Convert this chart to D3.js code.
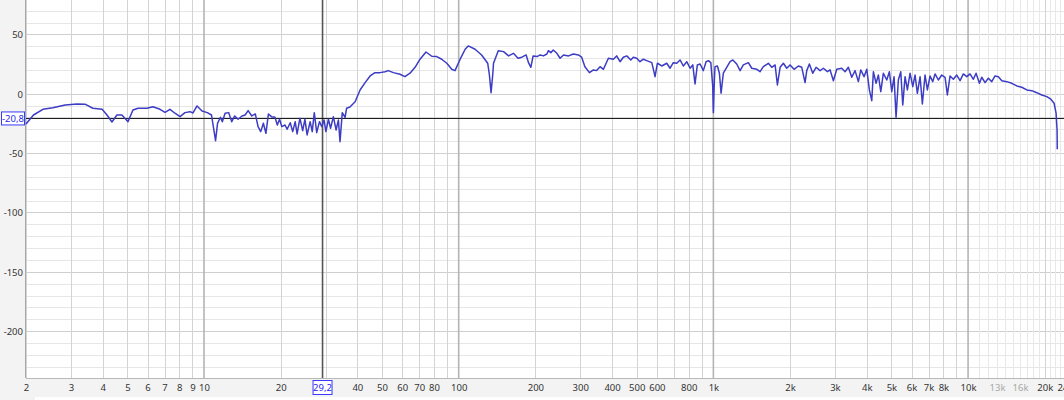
<!DOCTYPE html>
<html><head><meta charset="utf-8">
<script src="https://cdn.jsdelivr.net/npm/d3@7"></script>
<style>
html,body{margin:0;padding:0;background:#f3f3f3;}
svg{display:block;}
text{font-family:"Noto Sans","Open Sans",sans-serif;}
</style></head>
<body>
<svg id="chart" width="1064" height="400"></svg>
<script>
// ---------- DATA ----------
const freq = [
2.00,2.14,2.33,2.55,2.85,3.17,3.41,3.66,3.98,4.16,
4.35,4.55,4.76,5.03,5.26,5.51,5.97,6.30,6.72,7.03,
7.35,7.69,8.05,8.42,8.81,9.05,9.39,9.82,10.3,10.7,
11.1,11.3,11.6,11.8,12.1,12.5,12.85,13.2,13.6,14.1,
14.5,14.9,15.4,15.9,16.3,16.7,17.1,17.5,17.9,18.4,
19.0,19.4,19.8,20.2,20.8,21.2,21.8,22.3,22.8,23.2,
23.8,24.4,24.9,25.4,26.1,26.6,27.1,27.7,28.4,29.0,
29.6,30.1,30.8,31.4,32.2,33.0,33.7,34.2,34.9,35.8,
36.3,37.4,39.2,41.0,42.9,44.9,46.9,49.1,51.4,52.9,
55.4,58.8,61.5,64.4,67.4,70.5,74.4,78.4,82.0,85.8,
89.8,93.9,96.7,101,106,109,116,123,130,132,
134,136,137,143,150,157,164,171,177,184,
188,192,196,203,209,215,222,225,230,235,
243,250,258,270,282,295,304,313,326,338,
348,359,370,387,405,417,430,443,457,474,
485,500,515,531,547,573,582,590,603,627,
656,676,696,718,740,762,786,810,830,847,
865,887,913,936,956,977,994,1000,1009,1015,
1037,1056,1072,1094,1128,1163,1192,1235,1273,1311,
1372,1415,1481,1525,1571,1644,1695,1747,1784,1828,
1883,1941,2000,2074,2157,2223,2291,2326,2382,2456,
2531,2624,2703,2803,2872,2959,3051,3192,3289,3388,
3494,3600,3709,3790,3905,4002,4097,4187,4248,4353,
4445,4542,4650,4795,4909,5017,5122,5215,5325,5442,
5541,5658,5777,5920,6066,6193,6323,6480,6615,6778,
6921,7092,7267,7420,7645,7883,8122,8293,8498,8756,
9028,9303,9584,9883,10180,10490,10750,11080,11320,11660,
12010,12390,12760,13150,13570,14190,14850,15540,16250,17010,
17790,18620,19470,20380,21130,21770,22160,22360,22400];

const db = [
-25.4,-17.9,-13.1,-11.7,-9.4,-8.6,-8.8,-12.2,-13.1,-17.9,
-23.8,-17.9,-17.9,-23.5,-13.7,-12.2,-12.2,-10.9,-13.1,-15.6,
-13.1,-16.4,-19.3,-15.9,-15.1,-16.2,-10.3,-14.5,-15.9,-17.9,
-39.5,-24.9,-19.8,-23.5,-16.4,-15.9,-23.5,-18.7,-21.5,-18.7,
-17.9,-14.2,-18.7,-17.0,-27.7,-31.9,-24.9,-33.3,-17.0,-19.3,
-19.8,-26.3,-21.5,-27.7,-26.3,-29.9,-24.4,-31.9,-23.5,-33.9,
-20.6,-31.1,-21.5,-34.7,-23.5,-31.9,-15.9,-32.8,-23.5,-27.7,
-22.1,-31.9,-21.5,-29.1,-19.3,-30.5,-22.1,-40.4,-15.9,-19.8,
-12.2,-11.1,-6.7,3.2,9.4,15.0,17.8,17.8,18.6,19.5,
17.8,16.4,14.4,17.3,22.3,29.1,35.2,31.6,31.3,29.1,
25.7,20.7,19.5,28.5,37.5,40.3,37.5,32.7,25.7,15.8,
0.9,15.8,25.7,36.3,35.5,31.9,34.1,29.9,30.8,32.7,
26.2,22.3,31.9,31.3,32.7,31.9,33.5,36.3,34.6,36.9,
34.1,29.9,32.7,31.9,33.5,32.7,30.8,22.8,17.8,20.1,
19.5,22.8,20.6,29.9,29.1,31.9,27.0,30.8,31.9,28.5,
30.8,29.9,27.0,29.1,27.9,26.2,20.1,14.4,25.7,23.4,
25.7,21.5,26.2,25.7,28.5,23.4,27.0,21.5,24.3,8.3,
24.3,25.1,19.5,27.0,27.9,26.2,6.6,-15.9,11.6,22.8,
23.4,17.3,0.4,17.3,22.3,27.0,28.5,25.1,19.5,24.3,
26.2,21.5,20.6,18.6,22.8,25.7,22.3,24.3,7.4,22.3,
25.7,21.5,24.3,20.6,23.4,22.3,9.4,19.5,25.1,17.3,
22.3,19.5,21.5,18.6,20.1,11.0,20.6,21.5,18.6,22.3,
13.9,19.5,10.2,20.1,14.4,20.6,3.2,-5.8,18.6,8.8,
15.8,1.8,17.3,11.6,18.6,1.8,14.4,-19.8,11.6,18.6,
-9.4,14.4,3.2,17.3,6.0,15.8,0.4,14.4,-8.6,15.8,
3.2,15.0,10.2,16.7,11.6,15.8,13.9,-1.0,15.0,12.2,
15.8,11.0,16.7,14.4,16.7,12.2,17.3,8.8,13.9,9.4,
13.1,10.2,15.0,14.4,11.0,10.2,8.8,6.6,5.5,3.2,
2.6,0.9,-1.0,-2.4,-4.6,-8.0,-16.4,-30.5,-46.8];

const xTickValues = [2,3,4,5,6,7,8,9,10,20,40,50,60,70,80,100,200,300,400,500,600,800,1000,2000,3000,4000,5000,6000,7000,8000,10000,13000,16000,20000,24000];
const xTickLabels = ["2","3","4","5","6","7","8","9","10","20","40","50","60","70","80","100","200","300","400","500","600","800","1k","2k","3k","4k","5k","6k","7k","8k","10k","13k","16k","20k","24k"];
const xFadedLabels = ["13k","16k"];
const yTickValues = [50,0,-50,-100,-150,-200];
const yTickLabels = ["50","0","-50","-100","-150","-200"];
const freqDomain = [2, 24000];
const dbDomain = [-239.5, 79];
const cursorFreq = 29.2, cursorFreqLabel = "29,2";
const cursorDb = -20.8, cursorDbLabel = "-20,8";

// ---------- CHART ----------
const svg = d3.select("#chart");
const L = 26, R = 1064.9, T = 0, B = 378;
const x = d3.scaleLog().domain(freqDomain).range([L, R]);
const y = d3.scaleLinear().domain(dbDomain).range([B, T]);

svg.append("rect").attr("x",0).attr("y",0).attr("width",1064).attr("height",400).attr("fill","#f3f3f3");
svg.append("rect").attr("x",L).attr("y",T).attr("width",1064-L).attr("height",B-T).attr("fill","#ffffff");
svg.append("rect").attr("x",35).attr("y",397).attr("width",1029).attr("height",3).attr("fill","#ffffff");

const grid = svg.append("g");
// horizontal grid: every 10 (minor) and every 50 (major)
const hMinor = d3.range(-230, 80, 10).filter(v => v % 50 !== 0);
grid.selectAll(".hm").data(hMinor).enter().append("line")
  .attr("x1",L).attr("x2",1064).attr("y1",d=>Math.round(y(d))+0.5).attr("y2",d=>Math.round(y(d))+0.5)
  .attr("stroke","#e6e6e6").attr("stroke-width",1);
grid.selectAll(".hM").data(d3.range(-200, 80, 50)).enter().append("line")
  .attr("x1",L).attr("x2",1064).attr("y1",d=>Math.round(y(d))+0.5).attr("y2",d=>Math.round(y(d))+0.5)
  .attr("stroke","#cfcfcf").attr("stroke-width",1);

// vertical grid
const vMinor = [];
[1,10,100,1000].forEach(dec => { for (let m=2;m<=9;m++) vMinor.push(m*dec); });
const vFine = d3.range(11000, 24000, 1000).filter(v => v !== 20000);
const vDec = [10,100,1000,10000];
grid.selectAll(".vf").data(vFine).enter().append("line")
  .attr("x1",d=>Math.round(x(d))+0.5).attr("x2",d=>Math.round(x(d))+0.5).attr("y1",T).attr("y2",B)
  .attr("stroke","#e8e8e8");
grid.selectAll(".vm").data(vMinor.concat([20000])).enter().append("line")
  .attr("x1",d=>Math.round(x(d))+0.5).attr("x2",d=>Math.round(x(d))+0.5).attr("y1",T).attr("y2",B)
  .attr("stroke","#d3d3d3");
grid.selectAll(".vd").data(vDec).enter().append("line")
  .attr("x1",d=>x(d)).attr("x2",d=>x(d)).attr("y1",T).attr("y2",B)
  .attr("stroke","#b4b4b4").attr("stroke-width",1.6);

// axis frame
svg.append("line").attr("x1",L-0.5).attr("x2",L-0.5).attr("y1",T).attr("y2",B).attr("stroke","#a8a8a8");
svg.append("line").attr("x1",L).attr("x2",1064).attr("y1",B+0.5).attr("y2",B+0.5).attr("stroke","#b8b8b8");

// cursor lines
svg.append("line").attr("x1",x(cursorFreq)).attr("x2",x(cursorFreq)).attr("y1",T).attr("y2",B)
  .attr("stroke","#555555").attr("stroke-width",1.6);
svg.append("line").attr("x1",L).attr("x2",1064).attr("y1",y(cursorDb)).attr("y2",y(cursorDb))
  .attr("stroke","#111111").attr("stroke-width",1);

// curve
const pts = freq.map((f,i)=>[f, db[i]]);
svg.append("path").datum(pts)
  .attr("fill","none").attr("stroke","#3c3cc4").attr("stroke-width",1.5).attr("stroke-linejoin","round")
  .attr("d", d3.line().x(d=>x(d[0])).y(d=>y(d[1])));

// x axis
const xAxis = d3.axisBottom(x).tickValues(xTickValues).tickSize(0).tickPadding(0)
  .tickFormat((d,i)=>xTickLabels[i]);
const gx = svg.append("g").attr("transform",`translate(0,${B})`).call(xAxis);
gx.select(".domain").remove();
gx.selectAll("text").attr("y",13).attr("dy",0).attr("font-size","9.5px")
  .attr("fill",(d,i)=> xFadedLabels.includes(xTickLabels[i]) ? "#a8a8a8" : "#333333")
  .style("font-family",'"Noto Sans","Open Sans",sans-serif');

// y axis
const yAxis = d3.axisLeft(y).tickValues(yTickValues).tickSize(0).tickPadding(0)
  .tickFormat((d,i)=>yTickLabels[i]);
const gy = svg.append("g").attr("transform",`translate(${L-3},0)`).call(yAxis);
gy.select(".domain").remove();
gy.selectAll("text").attr("font-size","9.5px").attr("fill","#333333").attr("dy","0.35em")
  .style("font-family",'"Noto Sans","Open Sans",sans-serif');

// cursor labels
const cy = y(cursorDb);
svg.append("rect").attr("x",1.5).attr("y",cy-6.5).attr("width",23).attr("height",13)
  .attr("fill","#ffffff").attr("stroke","#3a3aff").attr("stroke-width",1);
svg.append("text").attr("x",13).attr("y",cy+3.5).attr("text-anchor","middle")
  .attr("font-size","9.5px").attr("fill","#2a2af0").text(cursorDbLabel);
const cx = x(cursorFreq);
svg.append("rect").attr("x",cx-9.5).attr("y",380.5).attr("width",19).attr("height",14)
  .attr("fill","#ffffff").attr("stroke","#3a3aff").attr("stroke-width",1);
svg.append("text").attr("x",cx).attr("y",391).attr("text-anchor","middle")
  .attr("font-size","9.5px").attr("fill","#2a2af0").text(cursorFreqLabel);
</script>
</body></html>
